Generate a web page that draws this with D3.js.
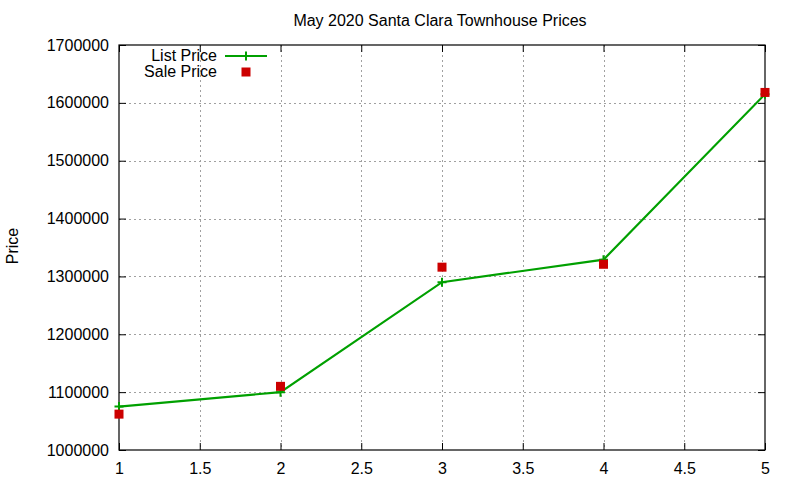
<!DOCTYPE html>
<html>
<head>
<meta charset="utf-8">
<script src="https://cdn.jsdelivr.net/npm/d3@7"></script>
<style>
	body { margin: 0; background: #fff; }
	text { font-family: "Liberation Sans", Arial, sans-serif; fill: #000; }
</style>
</head>
<body>
<svg id="chart" width="800" height="480"></svg>
<script>
const homes = [1, 2, 3, 4, 5];
const list_price = [1075000, 1100000, 1290000, 1329000, 1615000];
const sale_price = [1062000, 1110000, 1316000, 1321000, 1618000];
const x_ticks = [1, 1.5, 2, 2.5, 3, 3.5, 4, 4.5, 5];
const y_ticks = [1000000, 1100000, 1200000, 1300000, 1400000, 1500000, 1600000, 1700000];

const green = "#00a000";
const red = "#cc0000";

const svg = d3.select('#chart');

const pl = 119, pr = 765, pt = 45, pb = 450;

const x = d3.scaleLinear().domain([1, 5]).range([pl, pr]);
const y = d3.scaleLinear().domain([1000000, 1700000]).range([pb, pt]);

// grid
const grid = svg.append('g')
	.attr('stroke', '#a0a0a0')
	.attr('stroke-width', 1)
	.attr('stroke-dasharray', '2,3');

grid.selectAll('line.gx')
	.data(x_ticks.slice(1, -1))
	.enter().append('line')
	.attr('x1', d => Math.round(x(d)) + 0.5)
	.attr('x2', d => Math.round(x(d)) + 0.5)
	.attr('y1', pt)
	.attr('y2', pb);

grid.selectAll('line.gy')
	.data(y_ticks.slice(1, -1))
	.enter().append('line')
	.attr('y1', d => Math.round(y(d)) + 0.5)
	.attr('y2', d => Math.round(y(d)) + 0.5)
	.attr('x1', pl)
	.attr('x2', pr);

// axes, ticks inward and mirrored
const tl = 7;
const fmt = d => String(d);

svg.append('g')
	.attr('transform', `translate(0,${pb})`)
	.call(d3.axisBottom(x).tickValues(x_ticks).tickSize(-tl).tickPadding(13).tickFormat(fmt))
	.call(g => g.selectAll('text').attr('font-size', 16).attr('font-family', '"Liberation Sans", Arial, sans-serif'));

svg.append('g')
	.attr('transform', `translate(0,${pt})`)
	.call(d3.axisTop(x).tickValues(x_ticks).tickSize(-tl).tickFormat(''));

svg.append('g')
	.attr('transform', `translate(${pl},0)`)
	.call(d3.axisLeft(y).tickValues(y_ticks).tickSize(-tl).tickPadding(10).tickFormat(fmt))
	.call(g => g.selectAll('text').attr('font-size', 16).attr('font-family', '"Liberation Sans", Arial, sans-serif'));

svg.append('g')
	.attr('transform', `translate(${pr},0)`)
	.call(d3.axisRight(y).tickValues(y_ticks).tickSize(-tl).tickFormat(''));

svg.selectAll('.domain').remove();
svg.selectAll('.tick line').attr('stroke', '#000');

svg.append('rect')
	.attr('x', pl)
	.attr('y', pt)
	.attr('width', pr - pl)
	.attr('height', pb - pt)
	.attr('fill', 'none')
	.attr('stroke', '#000')
	.attr('stroke-width', 1.2);

// list price line
const line = d3.line()
	.x((d, i) => x(homes[i]))
	.y(d => y(d));

svg.append('path')
	.datum(list_price)
	.attr('d', line)
	.attr('fill', 'none')
	.attr('stroke', green)
	.attr('stroke-width', 2.2);

const ps = 4.5;
const plus = (cx, cy) => `M${cx - ps},${cy}H${cx + ps}M${cx},${cy - ps}V${cy + ps}`;

svg.selectAll('path.plus')
	.data(list_price)
	.enter().append('path')
	.attr('d', (d, i) => plus(x(homes[i]), y(d)))
	.attr('stroke', green)
	.attr('stroke-width', 2);

// sale price points
const sq = 9;
svg.selectAll('rect.sale')
	.data(sale_price)
	.enter().append('rect')
	.attr('x', (d, i) => x(homes[i]) - sq / 2)
	.attr('y', d => y(d) - sq / 2)
	.attr('width', sq)
	.attr('height', sq)
	.attr('fill', red);

// title and labels
svg.append('text')
	.attr('x', 440)
	.attr('y', 26)
	.attr('text-anchor', 'middle')
	.attr('font-size', 16)
	.text('May 2020 Santa Clara Townhouse Prices');

svg.append('text')
	.attr('transform', 'translate(18,246)rotate(-90)')
	.attr('text-anchor', 'middle')
	.attr('font-size', 16)
	.text('Price');

// legend
const legend = svg.append('g');

legend.append('text')
	.attr('x', 217)
	.attr('y', 61)
	.attr('text-anchor', 'end')
	.attr('font-size', 16)
	.text('List Price');

legend.append('line')
	.attr('x1', 225).attr('x2', 267)
	.attr('y1', 56).attr('y2', 56)
	.attr('stroke', green)
	.attr('stroke-width', 2.2);

legend.append('path')
	.attr('d', plus(246, 56))
	.attr('stroke', green)
	.attr('stroke-width', 2);

legend.append('text')
	.attr('x', 217)
	.attr('y', 77)
	.attr('text-anchor', 'end')
	.attr('font-size', 16)
	.text('Sale Price');

legend.append('rect')
	.attr('x', 246 - sq / 2)
	.attr('y', 72 - sq / 2)
	.attr('width', sq)
	.attr('height', sq)
	.attr('fill', red);
</script>
</body>
</html>
